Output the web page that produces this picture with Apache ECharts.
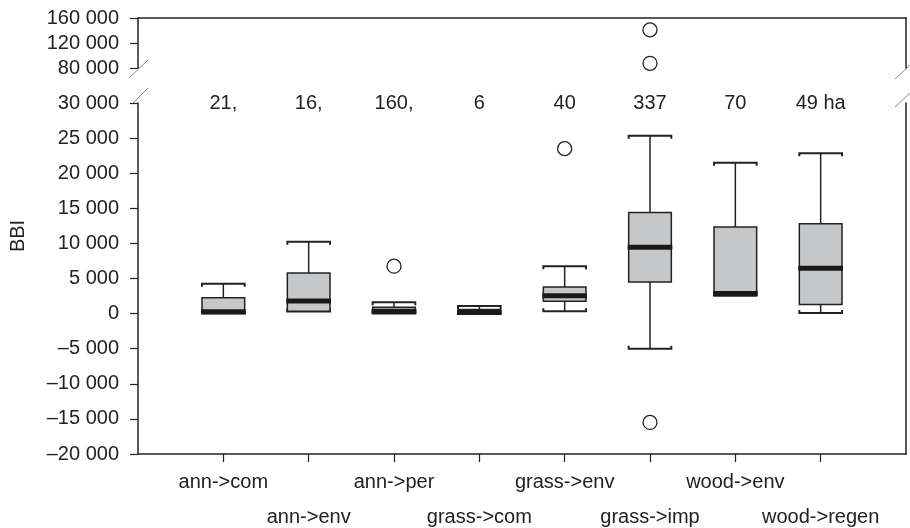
<!DOCTYPE html>
<html>
<head>
<meta charset="utf-8">
<script src="https://cdn.jsdelivr.net/npm/echarts@6/dist/echarts.min.js"></script>
<style>
  html, body { margin: 0; padding: 0; background: #fff; }
  #chart { width: 910px; height: 528px; }
</style>
</head>
<body>
<div id="chart"></div>
<script>
// empty slots at both ends give the outer margins of the x axis
var categories = ['', 'ann->com', 'ann->env', 'ann->per', 'grass->com', 'grass->env', 'grass->imp', 'wood->env', 'wood->regen', ''];
var groups = categories.slice(1, 9);

// five-number summaries, one entry per group
var boxMin = [0, 300, 0, 0, 350, -5000, 2500, 100];
var boxQ1 = [100, 350, 100, 0, 1750, 4500, 2500, 1300];
var boxMedian = [250, 1800, 350, 150, 2550, 9450, 2850, 6450];
var boxQ3 = [2250, 5800, 900, 600, 3800, 14400, 12350, 12800];
var boxMax = [4250, 10250, 1600, 1100, 6750, 25350, 21500, 22850];

var counts = ['21,', '16,', '160,', '6', '40', '337', '70', '49 ha'];

var outlierGroups = ['ann->per', 'grass->env', 'grass->imp'];
var outlierValues = [6750, 23500, -15500];
var highOutlierGroups = ['grass->imp', 'grass->imp'];
var highOutlierValues = [141000, 87500];

var font = "'Liberation Sans', Arial, sans-serif";
var ink = '#222';

function fmtTick(v) {
  var s = String(Math.abs(v)).replace(/\B(?=(\d{3})+(?!\d))/g, ' ');
  return v < 0 ? '\u2013' + s : s;
}

function renderBox(params, api) {
  var x = api.value(0);
  var half = api.size([1, 0])[0] * 0.25;
  var pMin = api.coord([x, api.value(1)]);
  var pQ1 = api.coord([x, api.value(2)]);
  var pMed = api.coord([x, api.value(3)]);
  var pQ3 = api.coord([x, api.value(4)]);
  var pMax = api.coord([x, api.value(5)]);
  var cx = pMed[0];
  var thin = { stroke: ink, lineWidth: 1.5, fill: null };
  var cap = { stroke: ink, lineWidth: 2, fill: null };
  var kids = [];
  if (pMax[1] < pQ3[1]) {
    kids.push({ type: 'line', shape: { x1: cx, y1: pMax[1], x2: cx, y2: pQ3[1] }, style: thin });
    kids.push({ type: 'polyline', shape: { points: [[cx - half, pMax[1] + 3], [cx - half, pMax[1]], [cx + half, pMax[1]], [cx + half, pMax[1] + 3]] }, style: cap });
  }
  if (pMin[1] > pQ1[1]) {
    kids.push({ type: 'line', shape: { x1: cx, y1: pQ1[1], x2: cx, y2: pMin[1] }, style: thin });
    kids.push({ type: 'polyline', shape: { points: [[cx - half, pMin[1] - 3], [cx - half, pMin[1]], [cx + half, pMin[1]], [cx + half, pMin[1] - 3]] }, style: cap });
  }
  kids.push({
    type: 'rect',
    shape: { x: cx - half, y: pQ3[1], width: half * 2, height: Math.max(pQ1[1] - pQ3[1], 1) },
    style: { fill: '#c6c7c9', stroke: ink, lineWidth: 1.5 }
  });
  kids.push({
    type: 'rect',
    shape: { x: cx - half - 1, y: pMed[1] - 2.5, width: half * 2 + 2, height: 5 },
    style: { fill: '#1a1a1a' }
  });
  return { type: 'group', children: kids };
}

var boxData = groups.map(function (g, i) {
  return [g, boxMin[i], boxQ1[i], boxMedian[i], boxQ3[i], boxMax[i]];
});

var circle = {
  type: 'scatter',
  symbol: 'circle',
  symbolSize: 14,
  itemStyle: { color: '#fff', borderColor: ink, borderWidth: 1.3, opacity: 1 },
  silent: true
};

var slash = { stroke: '#888', lineWidth: 1 };

var chart = echarts.init(document.getElementById('chart'));
chart.setOption({
  animation: false,
  textStyle: { fontFamily: font, color: ink },
  grid: [
    { left: 138, right: 4, top: 18, height: 50, outerBoundsMode: 'none' },
    { left: 138, right: 4, top: 103, height: 351, outerBoundsMode: 'none' }
  ],
  xAxis: [
    {
      gridIndex: 0, type: 'category', data: categories, boundaryGap: false, position: 'top',
      axisLine: { onZero: false, lineStyle: { color: ink, width: 1.5 } },
      axisTick: { show: false }, axisLabel: { show: false }, splitLine: { show: false }
    },
    {
      gridIndex: 1, type: 'category', data: categories, boundaryGap: false, position: 'bottom',
      axisLine: { onZero: false, lineStyle: { color: ink, width: 1.5 } },
      axisTick: {
        length: 8, lineStyle: { color: ink, width: 1.2 },
        interval: function (index, value) { return value !== ''; }
      },
      axisLabel: {
        interval: 0, margin: 11, fontSize: 20, lineHeight: 35, color: ink, fontFamily: font,
        formatter: function (value, index) { return index % 2 === 0 ? '\n' + value : value; }
      },
      splitLine: { show: false }
    }
  ],
  yAxis: [
    {
      gridIndex: 0, type: 'value', min: 80000, max: 160000, interval: 40000,
      axisLine: { show: true, onZero: false, lineStyle: { color: ink, width: 1.5 } },
      axisTick: { show: true, length: 8, lineStyle: { color: ink, width: 1.2 } },
      axisLabel: { margin: 19, fontSize: 20, color: ink, fontFamily: font, formatter: fmtTick },
      splitLine: { show: false }
    },
    {
      gridIndex: 0, type: 'value', position: 'right', min: 80000, max: 160000, interval: 40000,
      axisLine: { show: true, onZero: false, lineStyle: { color: ink, width: 1.5 } },
      axisTick: { show: false }, axisLabel: { show: false }, splitLine: { show: false }
    },
    {
      gridIndex: 1, type: 'value', min: -20000, max: 30000, interval: 5000,
      axisLine: { show: true, onZero: false, lineStyle: { color: ink, width: 1.5 } },
      axisTick: { show: true, length: 8, lineStyle: { color: ink, width: 1.2 } },
      axisLabel: { margin: 19, fontSize: 20, color: ink, fontFamily: font, formatter: fmtTick },
      splitLine: { show: false }
    },
    {
      gridIndex: 1, type: 'value', position: 'right', min: -20000, max: 30000, interval: 5000,
      axisLine: { show: true, onZero: false, lineStyle: { color: ink, width: 1.5 } },
      axisTick: { show: false }, axisLabel: { show: false }, splitLine: { show: false }
    }
  ],
  graphic: [
    {
      type: 'text', x: 18, y: 236, rotation: Math.PI / 2,
      style: { text: 'BBI', font: '20px ' + font, fill: ink, align: 'center', verticalAlign: 'middle' }
    },
    { type: 'line', shape: { x1: 129, y1: 78, x2: 148, y2: 60 }, style: slash },
    { type: 'line', shape: { x1: 132, y1: 104, x2: 148, y2: 88 }, style: slash },
    { type: 'line', shape: { x1: 895, y1: 79, x2: 910, y2: 65 }, style: slash },
    { type: 'line', shape: { x1: 895, y1: 107, x2: 910, y2: 93 }, style: slash }
  ],
  series: [
    {
      type: 'custom',
      xAxisIndex: 1, yAxisIndex: 2,
      renderItem: renderBox,
      encode: { x: 0, y: [1, 2, 3, 4, 5] },
      data: boxData,
      z: 2
    },
    Object.assign({}, circle, {
      xAxisIndex: 1, yAxisIndex: 2,
      data: outlierGroups.map(function (g, i) { return [g, outlierValues[i]]; })
    }),
    Object.assign({}, circle, {
      xAxisIndex: 0, yAxisIndex: 0,
      data: highOutlierGroups.map(function (g, i) { return [g, highOutlierValues[i]]; })
    }),
    {
      type: 'scatter',
      xAxisIndex: 1, yAxisIndex: 2,
      symbolSize: 0,
      silent: true,
      itemStyle: { opacity: 1 },
      data: groups.map(function (g, i) { return [g, 30000]; }),
      label: {
        show: true, position: 'inside', fontSize: 20, color: ink, fontFamily: font,
        formatter: function (p) { return counts[p.dataIndex]; }
      }
    }
  ]
});
</script>
</body>
</html>
